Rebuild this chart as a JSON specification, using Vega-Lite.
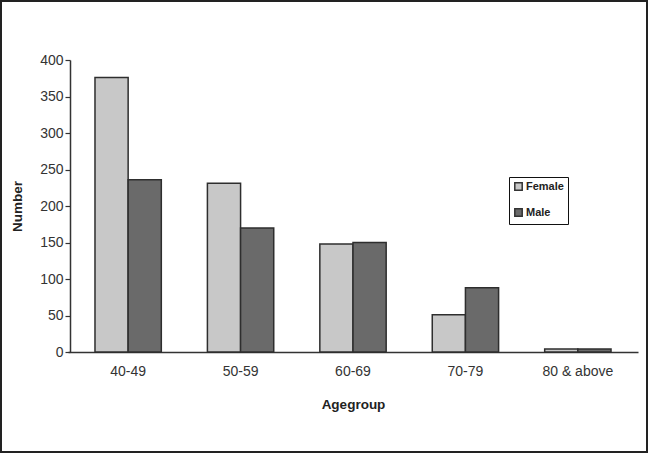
{
  "$schema": "https://vega.github.io/schema/vega-lite/v6.json",
  "autosize": "none",
  "width": 646,
  "height": 451,
  "padding": {"left": 1, "top": 1, "right": 2, "bottom": 2},
  "background": "white",
  "data": {
    "values": [
      {"Agegroup": "40-49", "Sex": "Female", "Number": 376},
      {"Agegroup": "40-49", "Sex": "Male", "Number": 236},
      {"Agegroup": "50-59", "Sex": "Female", "Number": 231},
      {"Agegroup": "50-59", "Sex": "Male", "Number": 170},
      {"Agegroup": "60-69", "Sex": "Female", "Number": 148},
      {"Agegroup": "60-69", "Sex": "Male", "Number": 150},
      {"Agegroup": "70-79", "Sex": "Female", "Number": 51},
      {"Agegroup": "70-79", "Sex": "Male", "Number": 88},
      {"Agegroup": "80 & above", "Sex": "Female", "Number": 4},
      {"Agegroup": "80 & above", "Sex": "Male", "Number": 4}
    ]
  },
  "mark": {"type": "bar", "stroke": "#2e2e2e", "strokeWidth": 1.5},
  "encoding": {
    "x": {
      "field": "Agegroup",
      "type": "nominal",
      "sort": null,
      "scale": {"range": [67, 637], "paddingInner": 0.41, "paddingOuter": 0.24},
      "axis": {
        "title": "Agegroup",
        "offset": -100,
        "labelAngle": 0,
        "ticks": false,
        "tickSize": 0,
        "labelPadding": 12,
        "titlePadding": 19
      }
    },
    "xOffset": {"field": "Sex", "type": "nominal", "scale": {"paddingInner": 0, "paddingOuter": 0}},
    "y": {
      "field": "Number",
      "type": "quantitative",
      "scale": {"domain": [0, 400], "range": [351, 59], "nice": false},
      "axis": {
        "title": "Number",
        "offset": -69,
        "values": [0, 50, 100, 150, 200, 250, 300, 350, 400],
        "grid": false,
        "tickSize": 5,
        "labelPadding": 2,
        "titlePadding": 15
      }
    },
    "fill": {
      "field": "Sex",
      "type": "nominal",
      "scale": {"domain": ["Female", "Male"], "range": ["#c8c8c8", "#6a6a6a"]},
      "legend": {
        "title": null,
        "orient": "none",
        "legendX": 508,
        "legendY": 176,
        "strokeColor": "#111",
        "fillColor": "white",
        "padding": 4,
        "rowPadding": 11,
        "symbolType": "square",
        "symbolSize": 55,
        "symbolStrokeColor": "#333",
        "symbolStrokeWidth": 1.5,
        "labelFont": "Liberation Sans",
        "labelFontWeight": "bold",
        "labelFontSize": 11,
        "labelColor": "#222",
        "labelOffset": 2
      }
    }
  },
  "config": {
    "view": {"stroke": "#222", "strokeWidth": 2},
    "axis": {
      "domainColor": "#333",
      "domainWidth": 1.5,
      "tickColor": "#333",
      "tickWidth": 1.2,
      "labelFont": "Liberation Sans",
      "labelFontSize": 14,
      "labelColor": "#333",
      "titleFont": "Liberation Sans",
      "titleFontSize": 13.5,
      "titleFontWeight": "bold",
      "titleColor": "#222"
    }
  }
}
